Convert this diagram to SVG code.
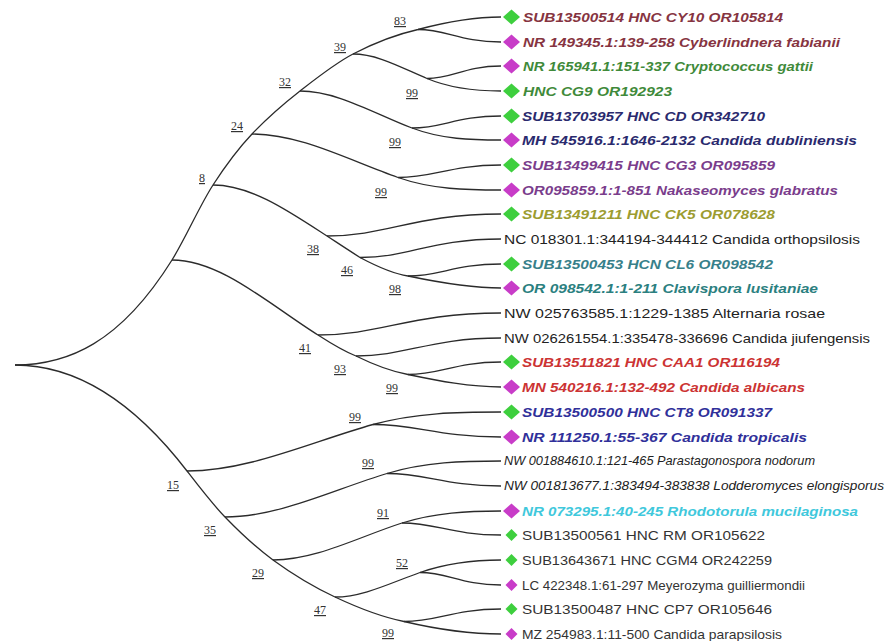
<svg xmlns="http://www.w3.org/2000/svg" width="891" height="641" viewBox="0 0 891 641">
<style>
.br{fill:none;stroke:#2b2b2b;stroke-width:1.3}
.t{font-family:"Liberation Sans",Arial,sans-serif;font-size:13px}
.bi{font-weight:bold;font-style:italic}
.it{font-style:italic}
.bs{font-family:"Liberation Serif","Times New Roman",serif;font-size:12px;text-anchor:middle;text-decoration:underline;fill:#333}
.g{fill:#3ecf3e}
.m{fill:#c83cc8}
</style>
<defs>
<path id="dia" d="M0,-7.5 L8.5,0 L0,7.5 L-8.5,0Z"/>
<path id="dias" d="M0,-6 L6,0 L0,6 L-6,0Z"/>
</defs>
<rect width="891" height="641" fill="#fff"/>
<g id="connectors">
<path class="br" d="M15,365 C67.3,365 119.7,343.7 172,260 C185.7,238.1 199.3,206.2 213,185 C226,164.9 239,147.7 252,134 C268,117.2 284,103.5 300,91 C317.7,77.2 335.3,63.2 353,54 C374.7,42.7 396.3,34.4 418,29.5 C445.7,22.1 473.3,17 501,17"/>
<path class="br" d="M418,29.5 C447,29.5 459.5,42 501,42"/>
<path class="br" d="M353,54 C377.7,54 402.3,68.1 427,78.5 C451.7,88.9 476.3,91 501,91"/>
<path class="br" d="M427,78.5 C452.9,78.5 464,66 501,66"/>
<path class="br" d="M300,91 C337.3,91 374.7,113.8 412,128 C441.7,139.3 471.3,140 501,140"/>
<path class="br" d="M412,128 C443.2,128 456.5,116 501,116"/>
<path class="br" d="M252,134 C300.7,134 349.3,160.5 398,177.5 C432.3,189.5 466.7,190 501,190"/>
<path class="br" d="M398,177.5 C434,177.5 449.5,165 501,165"/>
<path class="br" d="M213,185 C251,185 289,211.3 327,236 C338,243.2 349,250.5 360,257.5 C376,266 392,273.6 408,276 C439,282.5 470,288 501,288"/>
<path class="br" d="M327,236 C387.9,236 414,214 501,214"/>
<path class="br" d="M360,257.5 C409.4,257.5 430.5,239 501,239"/>
<path class="br" d="M408,276 C440.6,276 454.5,264 501,264"/>
<path class="br" d="M172,260 C220.7,260 269.3,304.4 318,335 C330.7,343.2 343.3,351 356,356 C373.3,364.5 390.7,371.4 408,374.5 C439,381 470,387 501,387"/>
<path class="br" d="M318,335 C382,335 409.5,313 501,313"/>
<path class="br" d="M356,356 C406.8,356 428.5,338 501,338"/>
<path class="br" d="M408,374.5 C440.6,374.5 454.5,362 501,362"/>
<path class="br" d="M15,365 C72.3,365 129.7,396.5 187,471 C199.7,487.5 212.3,504 225,517 C241,533.5 257,548.3 273,560 C293.7,575.1 314.3,587.3 335,597 C358,607.8 381,616.9 404,621.5 C436.3,629.1 468.7,634 501,634"/>
<path class="br" d="M187,471 C249,471 311,441.9 373,424.5 C415.7,412.6 458.3,412 501,412"/>
<path class="br" d="M373,424.5 C417.8,424.5 437,437 501,437"/>
<path class="br" d="M225,517 C279,517 333,489.7 387,473.5 C425,462.1 463,461 501,461"/>
<path class="br" d="M387,473.5 C426.9,473.5 444,486 501,486"/>
<path class="br" d="M273,560 C316,560 359,536.8 402,523 C435,512.4 468,511 501,511"/>
<path class="br" d="M402,523 C436.7,523 451.5,535 501,535"/>
<path class="br" d="M335,597 C363.3,597 391.7,582.4 420,572.5 C447,563.1 474,560 501,560"/>
<path class="br" d="M420,572.5 C448.4,572.5 460.5,585 501,585"/>
<path class="br" d="M404,621.5 C438,621.5 452.5,609 501,609"/>
</g>
<g id="n83"><text class="bs" x="400" y="25">83</text></g>
<g id="n39"><text class="bs" x="340" y="51">39</text></g>
<g id="n32"><text class="bs" x="285" y="86">32</text></g>
<g id="n99a"><text class="bs" x="412" y="97">99</text></g>
<g id="n99b"><text class="bs" x="395" y="146">99</text></g>
<g id="n24"><text class="bs" x="237" y="130">24</text></g>
<g id="n8"><text class="bs" x="202" y="182">8</text></g>
<g id="n99c"><text class="bs" x="381" y="196">99</text></g>
<g id="n38"><text class="bs" x="313" y="253">38</text></g>
<g id="n46"><text class="bs" x="347" y="274">46</text></g>
<g id="n98"><text class="bs" x="395" y="293">98</text></g>
<g id="n41"><text class="bs" x="305" y="352">41</text></g>
<g id="n93"><text class="bs" x="340" y="373">93</text></g>
<g id="n99d"><text class="bs" x="392" y="392">99</text></g>
<g id="n99f"><text class="bs" x="355" y="421">99</text></g>
<g id="n99g"><text class="bs" x="368" y="467">99</text></g>
<g id="n15"><text class="bs" x="173" y="489">15</text></g>
<g id="n35"><text class="bs" x="210" y="534">35</text></g>
<g id="n91"><text class="bs" x="383" y="517">91</text></g>
<g id="n29"><text class="bs" x="258" y="577">29</text></g>
<g id="n52"><text class="bs" x="402" y="567">52</text></g>
<g id="n47"><text class="bs" x="320" y="614">47</text></g>
<g id="n99e"><text class="bs" x="388" y="637">99</text></g>
<g id="leaf1"><use href="#dia" x="511.5" y="17" class="g"/><text class="t bi" x="523" y="21.5" textLength="260" lengthAdjust="spacingAndGlyphs" fill="#863441">SUB13500514 HNC CY10 OR105814</text></g>
<g id="leaf2"><use href="#dia" x="511.5" y="42" class="m"/><text class="t bi" x="523" y="46.5" textLength="317" lengthAdjust="spacingAndGlyphs" fill="#863441">NR 149345.1:139-258 Cyberlindnera fabianii</text></g>
<g id="leaf3"><use href="#dia" x="511.5" y="66" class="m"/><text class="t bi" x="523" y="70.5" textLength="290" lengthAdjust="spacingAndGlyphs" fill="#3f8a3a">NR 165941.1:151-337 Cryptococcus gattii</text></g>
<g id="leaf4"><use href="#dia" x="511.5" y="91" class="g"/><text class="t bi" x="523" y="95.5" textLength="149" lengthAdjust="spacingAndGlyphs" fill="#3f8a3a">HNC CG9 OR192923</text></g>
<g id="leaf5"><use href="#dia" x="511.5" y="116" class="g"/><text class="t bi" x="522" y="120.5" textLength="243" lengthAdjust="spacingAndGlyphs" fill="#2a2a6e">SUB13703957 HNC CD OR342710</text></g>
<g id="leaf6"><use href="#dia" x="511.5" y="140" class="m"/><text class="t bi" x="522" y="144.5" textLength="335" lengthAdjust="spacingAndGlyphs" fill="#2a2a6e">MH 545916.1:1646-2132 Candida dubliniensis</text></g>
<g id="leaf7"><use href="#dia" x="511.5" y="165" class="g"/><text class="t bi" x="522" y="169.5" textLength="253" lengthAdjust="spacingAndGlyphs" fill="#7a3d8c">SUB13499415 HNC CG3 OR095859</text></g>
<g id="leaf8"><use href="#dia" x="511.5" y="190" class="m"/><text class="t bi" x="522" y="194.5" textLength="316" lengthAdjust="spacingAndGlyphs" fill="#7a3d8c">OR095859.1:1-851 Nakaseomyces glabratus</text></g>
<g id="leaf9"><use href="#dia" x="511.5" y="214" class="g"/><text class="t bi" x="522" y="218.5" textLength="253" lengthAdjust="spacingAndGlyphs" fill="#9c9c30">SUB13491211 HNC CK5 OR078628</text></g>
<g id="leaf10"><text class="t" x="504" y="243.5" textLength="356" lengthAdjust="spacingAndGlyphs" fill="#222">NC 018301.1:344194-344412 Candida orthopsilosis</text></g>
<g id="leaf11"><use href="#dia" x="511.5" y="264" class="g"/><text class="t bi" x="522" y="268.5" textLength="251" lengthAdjust="spacingAndGlyphs" fill="#37808a">SUB13500453 HCN CL6 OR098542</text></g>
<g id="leaf12"><use href="#dia" x="511.5" y="288" class="m"/><text class="t bi" x="522" y="292.5" textLength="296" lengthAdjust="spacingAndGlyphs" fill="#2b8080">OR 098542.1:1-211 Clavispora lusitaniae</text></g>
<g id="leaf13"><text class="t" x="504" y="317.5" textLength="321" lengthAdjust="spacingAndGlyphs" fill="#222">NW 025763585.1:1229-1385 Alternaria rosae</text></g>
<g id="leaf14"><text class="t" x="504" y="342.5" textLength="366" lengthAdjust="spacingAndGlyphs" fill="#222">NW 026261554.1:335478-336696 Candida jiufengensis</text></g>
<g id="leaf15"><use href="#dia" x="511.5" y="362" class="g"/><text class="t bi" x="522" y="366.5" textLength="258" lengthAdjust="spacingAndGlyphs" fill="#cc3333">SUB13511821 HNC CAA1 OR116194</text></g>
<g id="leaf16"><use href="#dia" x="511.5" y="387" class="m"/><text class="t bi" x="522" y="391.5" textLength="283" lengthAdjust="spacingAndGlyphs" fill="#cc3333">MN 540216.1:132-492 Candida albicans</text></g>
<g id="leaf17"><use href="#dia" x="511.5" y="412" class="g"/><text class="t bi" x="522" y="416.5" textLength="250" lengthAdjust="spacingAndGlyphs" fill="#30309a">SUB13500500 HNC CT8 OR091337</text></g>
<g id="leaf18"><use href="#dia" x="511.5" y="437" class="m"/><text class="t bi" x="522" y="441.5" textLength="285" lengthAdjust="spacingAndGlyphs" fill="#30309a">NR 111250.1:55-367 Candida tropicalis</text></g>
<g id="leaf19"><text class="t it" x="504" y="465" font-size="11.5" textLength="311" lengthAdjust="spacingAndGlyphs" fill="#222">NW 001884610.1:121-465 Parastagonospora nodorum</text></g>
<g id="leaf20"><text class="t it" x="504" y="490" font-size="11.5" textLength="380" lengthAdjust="spacingAndGlyphs" fill="#222">NW 001813677.1:383494-383838 Lodderomyces elongisporus</text></g>
<g id="leaf21"><use href="#dia" x="511.5" y="511" class="m"/><text class="t bi" x="522" y="515.5" textLength="336" lengthAdjust="spacingAndGlyphs" fill="#40c8dc">NR 073295.1:40-245 Rhodotorula mucilaginosa</text></g>
<g id="leaf22"><use href="#dias" x="511.5" y="535" class="g"/><text class="t" x="522" y="539.5" textLength="243" lengthAdjust="spacingAndGlyphs" fill="#333">SUB13500561 HNC RM OR105622</text></g>
<g id="leaf23"><use href="#dias" x="511.5" y="560" class="g"/><text class="t" x="522" y="564.5" textLength="250" lengthAdjust="spacingAndGlyphs" fill="#333">SUB13643671 HNC CGM4 OR242259</text></g>
<g id="leaf24"><use href="#dias" x="511.5" y="585" class="m"/><text class="t" x="522" y="589.5" textLength="283" lengthAdjust="spacingAndGlyphs" fill="#333">LC 422348.1:61-297 Meyerozyma guilliermondii</text></g>
<g id="leaf25"><use href="#dias" x="511.5" y="609" class="g"/><text class="t" x="522" y="613.5" textLength="250" lengthAdjust="spacingAndGlyphs" fill="#333">SUB13500487 HNC CP7 OR105646</text></g>
<g id="leaf26"><use href="#dias" x="511.5" y="634" class="m"/><text class="t" x="522" y="638.5" textLength="260" lengthAdjust="spacingAndGlyphs" fill="#333">MZ 254983.1:11-500 Candida parapsilosis</text></g>
</svg>
